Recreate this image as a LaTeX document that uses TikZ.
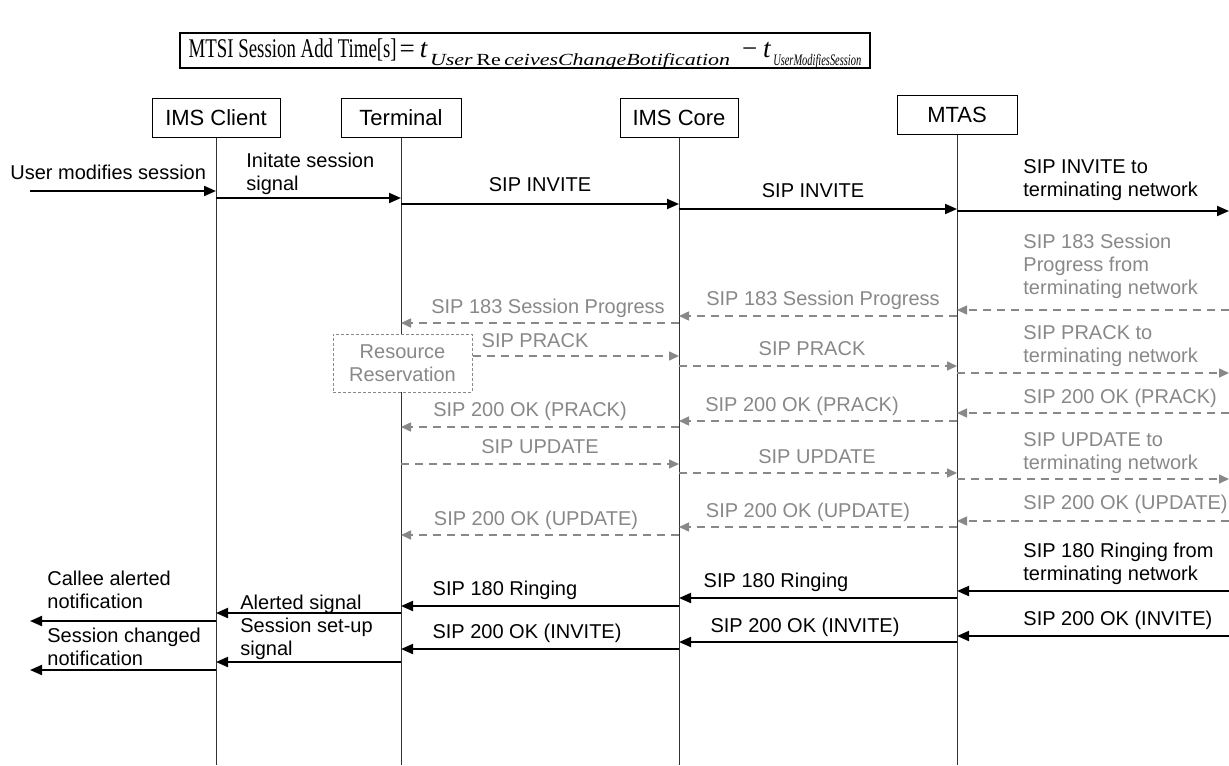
\documentclass[tikz,border=0pt]{standalone}
\usepackage{fontspec}
\setmainfont{Liberation Sans}
\newfontfamily\fmlfont{Liberation Serif}
\usepackage{xcolor}
\usepackage{graphicx}
\usepackage{tikz}
\usetikzlibrary{arrows.meta,positioning,calc}
\definecolor{sipgray}{RGB}{136,136,136}

\begin{document}
\begin{tikzpicture}[
    x=0.5pt, y=-0.5pt,
    head/.style={rectangle, draw=black, line width=0.5pt, minimum height=19pt, minimum width=60pt, inner sep=2pt, font=\fontsize{11}{13}\selectfont},
    fbox/.style={rectangle, draw=black, line width=0.8pt, minimum width=345pt, inner xsep=0pt, inner ysep=0pt, text height=12.5pt, text depth=5pt},
    resv/.style={rectangle, draw=sipgray, fill=white, line width=0.5pt, dash pattern=on 1.5pt off 1pt, minimum width=69.5pt, minimum height=29pt, align=center, text=sipgray, inner sep=0pt, font=\fontsize{10}{11.5}\selectfont},
    life/.style={line width=0.5pt, draw=black!80},
    lbl/.style={inner sep=0pt, align=left, font=\fontsize{10}{11.5}\selectfont},
    glbl/.style={lbl, text=sipgray},
    msg/.style={-{Triangle[length=6pt,width=5pt]}, line width=1pt},
    rmsg/.style={-{Triangle[length=5pt,width=4.5pt]}, line width=0.75pt, draw=sipgray, dash pattern=on 4pt off 3pt}
]
    \useasboundingbox (0,0) rectangle (1229,765);

    \node [fbox] (fml) at (525,50.5) {\fmlfont\fontsize{13.5}{15}\selectfont
        \resizebox{104pt}{\height}{MTSI Session Add Time[s]}\hspace{1.5pt}=\hspace{2.5pt}\textit{t}\hspace{1pt}\raisebox{-4pt}{\resizebox{150pt}{\height}{\fontsize{8.5}{9}\selectfont\textit{User}\,Re\,\textit{ceivesChangeBotification}}}\hspace{6pt}−\hspace{3pt}\textit{t}\hspace{1pt}\raisebox{-4pt}{\resizebox{44pt}{\height}{\fontsize{8}{9}\selectfont\textit{UserModifiesSession}}}};

    \node [head, minimum width=64pt] (cl) at (216,118) {IMS Client};
    \node [head, minimum width=60pt] (tm) at (401,118) {Terminal};
    \node [head, minimum width=59pt] (co) at (679,118) {IMS Core};
    \node [head, minimum width=60pt] (mt) at (957,115) {MTAS};

    \coordinate (usr) at (30,0);
    \coordinate (net) at (1229,0);

    \draw [life] (cl.south) -- (cl.south |- 0,765);
    \draw [life] (tm.south) -- (tm.south |- 0,765);
    \draw [life] (co.south) -- (co.south |- 0,765);
    \draw [life] (mt.south) -- (mt.south |- 0,765);

    \node [resv] (rr) at (402.5,363) {Resource\\Reservation};

    \draw [msg] (usr |- 0,191) -- (cl |- 0,191);
    \draw [msg] (cl |- 0,198) -- (tm |- 0,198);
    \draw [msg] (tm |- 0,204) -- (co |- 0,204);
    \draw [msg] (co |- 0,209) -- (mt |- 0,209);
    \draw [msg] (mt |- 0,211) -- (net |- 0,211);

    \node [lbl, anchor=west] (l1) at (10,172) {User modifies session};
    \node [lbl, anchor=west] (l2) at (246,174) {Initate session\\signal};
    \node [lbl] (l3) at (540,185) {SIP INVITE};
    \node [lbl] (l4) at (813,191) {SIP INVITE};
    \node [lbl, anchor=west] (l5) at (1023,180) {SIP INVITE to\\terminating network};

    \draw [rmsg] (net |- 0,310) -- (mt |- 0,310);
    \draw [rmsg] (mt |- 0,316) -- (co |- 0,316);
    \draw [rmsg] (co |- 0,323) -- (tm |- 0,323);
    \draw [rmsg] (rr.east |- 0,356) -- (co |- 0,356);
    \draw [rmsg] (co |- 0,366) -- (mt |- 0,366);
    \draw [rmsg] (mt |- 0,373) -- (net |- 0,373);

    \node [glbl, anchor=west] (l6) at (1023,266) {SIP 183 Session\\Progress from\\terminating network};
    \node [glbl] (l7) at (823,300) {SIP 183 Session Progress};
    \node [glbl] (l8) at (548,308) {SIP 183 Session Progress};
    \node [glbl] (l9) at (535,341) {SIP PRACK};
    \node [glbl] (l10) at (812,349) {SIP PRACK};
    \node [glbl, anchor=west] (l11) at (1023,346) {SIP PRACK to\\terminating network};

    \draw [rmsg] (net |- 0,413) -- (mt |- 0,413);
    \draw [rmsg] (mt |- 0,421) -- (co |- 0,421);
    \draw [rmsg] (co |- 0,427) -- (tm |- 0,427);
    \draw [rmsg] (tm |- 0,464) -- (co |- 0,464);
    \draw [rmsg] (co |- 0,473) -- (mt |- 0,473);
    \draw [rmsg] (mt |- 0,479) -- (net |- 0,479);

    \node [glbl, anchor=west] (l12) at (1023,398) {SIP 200 OK (PRACK)};
    \node [glbl] (l13) at (802,406) {SIP 200 OK (PRACK)};
    \node [glbl] (l14) at (530,411) {SIP 200 OK (PRACK)};
    \node [glbl] (l15) at (540,447) {SIP UPDATE};
    \node [glbl] (l16) at (817,457) {SIP UPDATE};
    \node [glbl, anchor=west] (l17) at (1023,453) {SIP UPDATE to\\terminating network};

    \draw [rmsg] (net |- 0,521) -- (mt |- 0,521);
    \draw [rmsg] (mt |- 0,527) -- (co |- 0,527);
    \draw [rmsg] (co |- 0,535) -- (tm |- 0,535);

    \node [glbl, anchor=west] (l18) at (1023,504) {SIP 200 OK (UPDATE)};
    \node [glbl] (l19) at (808,512) {SIP 200 OK (UPDATE)};
    \node [glbl] (l20) at (536,520) {SIP 200 OK (UPDATE)};

    \draw [msg] (net |- 0,591) -- (mt |- 0,591);
    \draw [msg] (mt |- 0,598) -- (co |- 0,598);
    \draw [msg] (co |- 0,606) -- (tm |- 0,606);
    \draw [msg] (tm |- 0,613) -- (cl |- 0,613);
    \draw [msg] (cl |- 0,621) -- (usr |- 0,621);

    \node [lbl, anchor=west] (l21) at (1023,564) {SIP 180 Ringing from\\terminating network};
    \node [lbl] (l22) at (776,582) {SIP 180 Ringing};
    \node [lbl] (l23) at (505,590) {SIP 180 Ringing};
    \node [lbl, anchor=west] (l24) at (240,604) {Alerted signal};
    \node [lbl, anchor=west] (l25) at (47,590) {Callee alerted\\notification};

    \draw [msg] (net |- 0,636) -- (mt |- 0,636);
    \draw [msg] (mt |- 0,642) -- (co |- 0,642);
    \draw [msg] (co |- 0,649) -- (tm |- 0,649);
    \draw [msg] (tm |- 0,662) -- (cl |- 0,662);
    \draw [msg] (cl |- 0,670) -- (usr |- 0,670);

    \node [lbl, anchor=west] (l26) at (1023,620) {SIP 200 OK (INVITE)};
    \node [lbl] (l27) at (805,627) {SIP 200 OK (INVITE)};
    \node [lbl] (l28) at (527,633) {SIP 200 OK (INVITE)};
    \node [lbl, anchor=west] (l29) at (240,639) {Session set-up\\signal};
    \node [lbl, anchor=west] (l30) at (47,647) {Session changed\\notification};
\end{tikzpicture}
\end{document}
